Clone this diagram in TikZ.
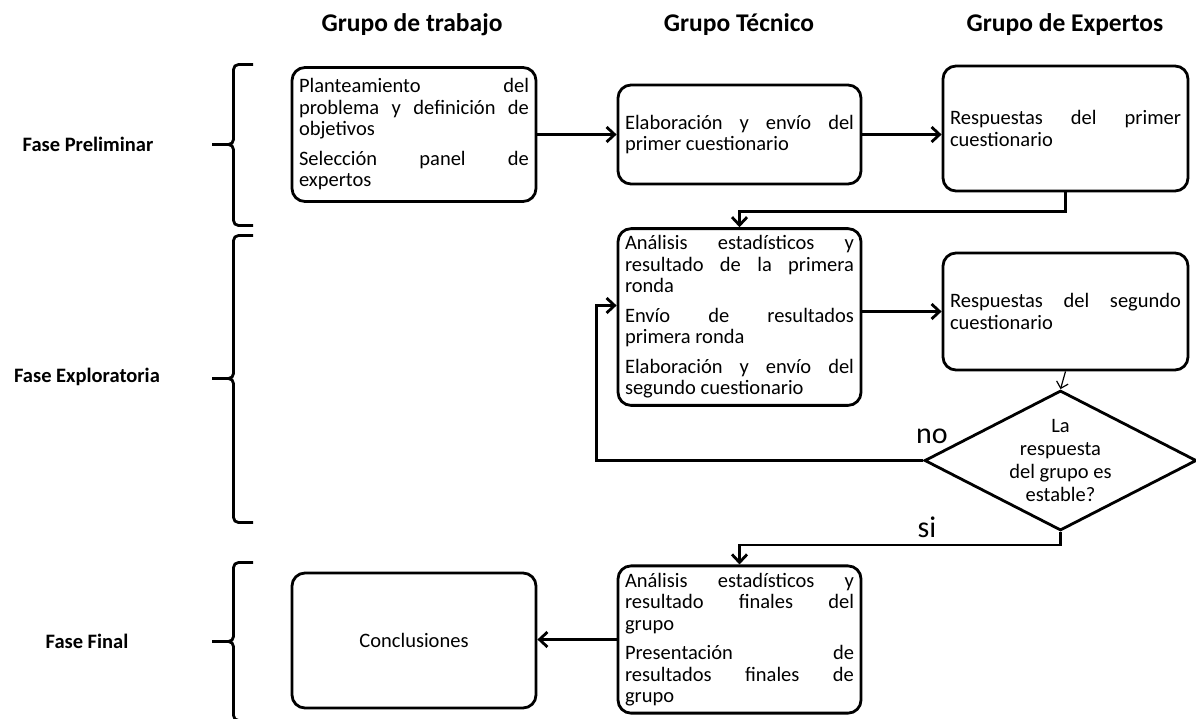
\documentclass[tikz,border=0pt]{standalone}
\usepackage{fontspec}
\setmainfont{Carlito}
\usetikzlibrary{arrows.meta,shapes.geometric,calc}
\newcommand\boxfont{\fontsize{20.5}{21.5}\selectfont\tolerance=9999\pretolerance=-1\hyphenpenalty=10000\relax}
\newcommand\nextpara{\par\vspace{8pt}}
\begin{document}
\begin{tikzpicture}[x=1pt,y=-1pt,
  line width=2.8pt,
  box/.style 2 args={draw,rounded corners=13pt,inner sep=7pt,align=justify,
    font=\boxfont,text width=#1-14pt,minimum width=#1,minimum height=#2},
  arr/.style={-{Straight Barb[length=8pt,width=15pt]}},
  thinarr/.style={line width=1.2pt,-{Straight Barb[length=6pt,width=12pt]}},
  head/.style={font=\fontsize{25.5}{30}\selectfont\bfseries},
  phase/.style={font=\fontsize{20.5}{24}\selectfont\bfseries},
  answer/.style={font=\fontsize{30}{34}\selectfont},
  bracestyle/.style={rounded corners=5pt}]
\useasboundingbox (0,0) rectangle (1196,718);
\clip (0,0) rectangle (1196,718);

% column headings
\node[head] (h1) at (412,25) {Grupo de trabajo};
\node[head] (h2) at (739,25) {Grupo Técnico};
\node[head] (h3) at (1065,25) {Grupo de Expertos};

% phase labels and their braces
\node[phase] (p1) at (88,144) {Fase Preliminar};
\node[phase] (p2) at (87,377) {Fase Exploratoria};
\node[phase] (p3) at (87,641) {Fase Final};

\draw[bracestyle] (253,64.5) -- (233.5,64.5) -- (233.5,144.5) -- (212,144.5);
\draw[bracestyle] (253,225.5) -- (233.5,225.5) -- (233.5,144.5) -- (226,144.5);
\draw[bracestyle] (253,235.5) -- (233.5,235.5) -- (233.5,378.5) -- (212,378.5);
\draw[bracestyle] (253,522.5) -- (233.5,522.5) -- (233.5,378.5) -- (226,378.5);
\draw[bracestyle] (253,562.5) -- (233.5,562.5) -- (233.5,641.5) -- (212,641.5);
\draw[bracestyle] (253,720.5) -- (233.5,720.5) -- (233.5,641.5) -- (226,641.5);

% process boxes
\node[box={244pt}{134pt}] (b1) at (414,134.5)
  {Planteamiento del\linebreak problema y definición de\linebreak objetivos\nextpara
   Selección panel de\linebreak expertos};
\node[box={243pt}{99pt}] (b2) at (739.5,134.5)
  {Elaboración y envío del\linebreak primer cuestionario};
\node[box={245pt}{125pt}] (b3) at (1065.5,128.5)
  {Respuestas del primer\linebreak cuestionario};
\node[box={243pt}{172pt}] (b4) at (739.5,317)
  {Análisis estadísticos y\linebreak resultado de la primera\linebreak ronda\nextpara
   Envío de resultados\linebreak primera ronda\nextpara
   Elaboración y envío del\linebreak segundo cuestionario};
\node[box={245pt}{117pt}] (b5) at (1065.5,311.5)
  {Respuestas del segundo\linebreak cuestionario};
\node[box={243pt}{138pt}] (b6) at (739.5,639.5)
  {Análisis estadísticos y\linebreak resultado finales del\linebreak grupo\nextpara
   Presentación de\linebreak resultados finales de\linebreak grupo};
\node[box={244pt}{135pt},align=center] (b7) at (414,640.5) {Conclusiones};

% decision
\node[draw,diamond,aspect=1.94,minimum width=272pt,minimum height=140pt,
  inner sep=0pt] (d) at (1060.5,460.5) {};
\node[align=center,font=\fontsize{20.5}{23}\selectfont] (dtext) at (d.center)
  {La\\respuesta\\del grupo es\\estable?};

% connectors
\draw[arr] (b1.east) -- (b1.east -| b2.west);
\draw[arr] (b2.east) -- (b2.east -| b3.west);
\draw[arr] (b3.south) -- ++(0,19) -| (b4.north);
\draw[arr] (b5.west -| b4.east) -- (b5.west);
\draw[thinarr] (b5.south) -- (d.north);
\coordinate (nocorner) at (596.5,305.5);
\draw[arr] (d.west) -| (nocorner) -- (nocorner -| b4.west);
\draw[arr] (d.south) -- ++(0,13) -| (b6.north);
\draw[arr] (b6.west) -- (b6.west -| b7.east);

% decision outcomes
\node[answer] (no) at (932,436) {no};
\node[answer] (si) at (927,527) {si};
\end{tikzpicture}
\end{document}
